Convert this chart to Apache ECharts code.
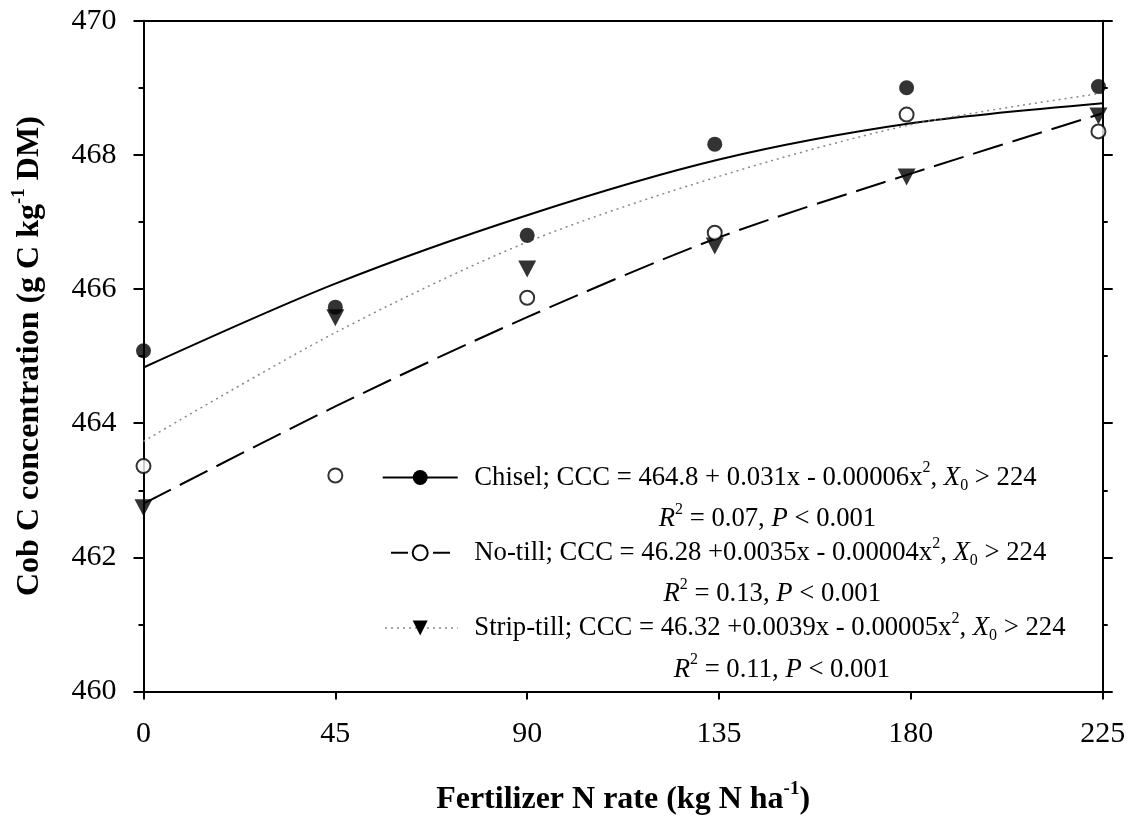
<!DOCTYPE html>
<html>
<head>
<meta charset="utf-8">
<script src="https://cdn.jsdelivr.net/npm/echarts@6/dist/echarts.min.js"></script>
<style>
html,body{margin:0;padding:0;background:#fff;}
#chart{width:1136px;height:821px;}
</style>
</head>
<body>
<div id="chart"></div>
<script>
// ---- data ----
const nRates = [0, 45, 90, 134, 179, 224];
const chiselObs = [465.08, 465.73, 466.80, 468.16, 469.00, 469.02];
const noTillObs = [463.36, 463.22, 465.87, 466.84, 468.60, 468.35];
const stripTillObs = [462.74, 465.57, 466.30, 466.64, 467.67, 468.58];

const fitRates = [0, 45, 90, 135, 180, 225];
const chiselFit = [464.83, 466.08, 467.10, 467.93, 468.47, 468.77];
const noTillFit = [462.80, 464.25, 465.58, 466.77, 467.72, 468.62];
const stripTillFit = [463.73, 465.35, 466.70, 467.68, 468.45, 468.92];

const xTickLabels = [0, 45, 90, 135, 180, 225];
const yTickLabels = [460, 462, 464, 466, 468, 470];

const legendEq = {
  'Chisel': ['Chisel; CCC = 464.8 + 0.031x - 0.00006x', '0.07'],
  'No-till': ['No-till; CCC = 46.28 +0.0035x - 0.00004x', '0.13'],
  'Strip-till': ['Strip-till; CCC = 46.32 +0.0039x - 0.00005x', '0.11']
};

// ---- styling ----
const FONT = "'Liberation Serif','Times New Roman',serif";
const zip = (xs, ys) => xs.map((x, i) => [x, ys[i]]);
const triDown = 'path://M0,0L20,0L10,18Z';
const L = 41.6;
const LF = 26.7;

const chart = echarts.init(document.getElementById('chart'), null, {renderer: 'canvas'});

const legendRich = {
  n: {fontFamily: FONT, fontSize: LF, color: '#000', lineHeight: L, align: 'center'},
  i: {fontFamily: FONT, fontSize: LF, fontStyle: 'italic', color: '#000', lineHeight: L, align: 'center'},
  r: {fontFamily: FONT, fontSize: LF, fontStyle: 'italic', color: '#000', lineHeight: L, align: 'center', padding: [0, 0, 0, 24]},
  sup: {fontFamily: FONT, fontSize: 16, color: '#000', lineHeight: L, align: 'center', padding: [0, 0, 19, 0]},
  sub: {fontFamily: FONT, fontSize: 16, color: '#000', lineHeight: L, align: 'center', padding: [16, 0, 0, 0]}
};

const titleRich = {
  b: {fontFamily: FONT, fontSize: 32, fontWeight: 'bold', color: '#000'},
  sup: {fontFamily: FONT, fontSize: 19, fontWeight: 'bold', color: '#000', padding: [0, 0, 22, 0]}
};

const axisLineStyle = {color: '#000', width: 2};

const option = {
  backgroundColor: '#fff',
  animation: false,
  grid: {left: 143.5, right: 33.3, top: 20.7, bottom: 128.5, containLabel: false},
  legend: {
    orient: 'vertical',
    left: 381.7,
    top: 460,
    padding: 0,
    itemWidth: 75,
    itemHeight: 18.75,
    itemGap: -1.3,
    selectedMode: false,
    data: [
      {name: 'Chisel', lineStyle: {type: 'solid', width: 2, color: '#000'}},
      {name: 'No-till', lineStyle: {type: [17, 25], dashOffset: 33.7, width: 2, color: '#000'}},
      {name: 'Strip-till', lineStyle: {type: [2, 4], width: 1.5, color: '#888'}}
    ],
    formatter: function (name) {
      const e = legendEq[name];
      return '{n|' + e[0] + '}{sup|2}{n|, }{i|X}{sub|0}{n| > 224}\n' +
             '{r|R}{sup|2}{n| = ' + e[1] + ', }{i|P}{n| < 0.001}';
    },
    textStyle: {fontFamily: FONT, fontSize: LF, color: '#000', padding: [L, 0, 0, 11.6], rich: legendRich}
  },
  xAxis: [{
    type: 'value', position: 'bottom', min: 0, max: 225, interval: 45,
    axisLine: {show: true, onZero: false, lineStyle: axisLineStyle},
    axisTick: {show: true, inside: false, length: 8, lineStyle: axisLineStyle},
    splitLine: {show: false},
    axisLabel: {
      fontFamily: FONT, fontSize: 30, color: '#000', margin: 28,
      formatter: v => xTickLabels.indexOf(v) >= 0 ? String(v) : ''
    },
    name: '{b|Fertilizer N rate (kg N ha}{sup|-1}{b|)}',
    nameLocation: 'middle', nameGap: 88,
    nameTextStyle: {rich: titleRich}
  }, {
    type: 'value', position: 'top', min: 0, max: 225, interval: 45,
    axisLine: {show: true, onZero: false, lineStyle: axisLineStyle},
    axisTick: {show: false}, axisLabel: {show: false}, splitLine: {show: false}
  }],
  yAxis: [{
    type: 'value', position: 'left', min: 460, max: 470, interval: 2,
    axisLine: {show: true, onZero: false, lineStyle: axisLineStyle},
    axisTick: {show: true, inside: false, length: 10, lineStyle: axisLineStyle},
    minorTick: {show: true, splitNumber: 2, length: 5, lineStyle: axisLineStyle},
    splitLine: {show: false}, minorSplitLine: {show: false},
    axisLabel: {
      fontFamily: FONT, fontSize: 30, color: '#000', margin: 27,
      formatter: v => yTickLabels.indexOf(v) >= 0 ? String(v) : ''
    },
    name: '{b|Cob C concentration (g C kg}{sup|-1}{b| DM)}',
    nameLocation: 'middle', nameGap: 93, nameRotate: 90,
    nameTextStyle: {rich: titleRich}
  }, {
    type: 'value', position: 'right', min: 460, max: 470, interval: 2,
    axisLine: {show: true, onZero: false, lineStyle: axisLineStyle},
    axisTick: {show: true, inside: false, length: 10, lineStyle: axisLineStyle},
    minorTick: {show: true, splitNumber: 2, length: 5, lineStyle: axisLineStyle},
    splitLine: {show: false}, minorSplitLine: {show: false},
    axisLabel: {show: false}
  }],
  series: [
    {
      name: 'Chisel', type: 'line', data: zip(fitRates, chiselFit), smooth: 0.3,
      symbol: 'circle', symbolSize: 15, showSymbol: false,
      itemStyle: {color: '#000', borderWidth: 0},
      lineStyle: {color: '#000', width: 2, type: 'solid'}, z: 2
    },
    {
      name: 'No-till', type: 'line', data: zip(fitRates, noTillFit), smooth: 0.3,
      symbol: 'circle', symbolSize: 14, showSymbol: false,
      itemStyle: {color: '#fff', borderColor: '#000', borderWidth: 2},
      lineStyle: {color: '#000', width: 2, type: [31, 10]}, z: 2
    },
    {
      name: 'Strip-till', type: 'line', data: zip(fitRates, stripTillFit), smooth: 0.3,
      symbol: triDown, symbolSize: [18, 17], showSymbol: false,
      itemStyle: {color: '#000', borderWidth: 0},
      lineStyle: {color: '#888', width: 1.5, type: [2, 4]}, z: 2
    },
    {
      name: 'Strip-till data', type: 'scatter', data: zip(nRates, stripTillObs),
      symbol: triDown, symbolSize: [18, 17],
      itemStyle: {color: '#000'}, z: 3
    },
    {
      name: 'No-till data', type: 'scatter', data: zip(nRates, noTillObs),
      symbol: 'circle', symbolSize: 14,
      itemStyle: {color: '#fff', borderColor: '#000', borderWidth: 2}, z: 4
    },
    {
      name: 'Chisel data', type: 'scatter', data: zip(nRates, chiselObs),
      symbol: 'circle', symbolSize: 15,
      itemStyle: {color: '#000'}, z: 5
    }
  ]
};

chart.setOption(option);
</script>
</body>
</html>
